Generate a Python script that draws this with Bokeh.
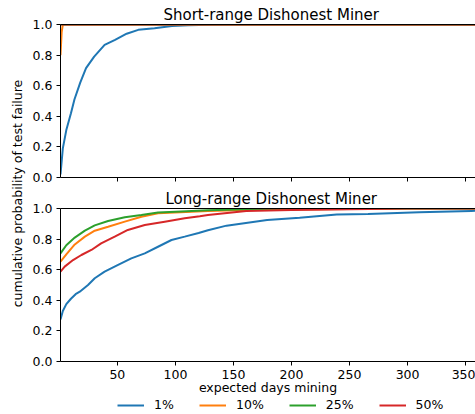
import numpy as np
from bokeh.plotting import figure
from bokeh.models import (Range1d, FixedTicker, PrintfTickFormatter, LinearAxis,
                          Legend, LegendItem)
from bokeh.layouts import row, column
from bokeh.core.properties import value
from bokeh.embed import file_html
from bokeh.resources import INLINE

FONT = "DejaVu Sans"

# ---------------- data ----------------
series_labels = ["1%", "10%", "25%", "50%"]
series_colors = ["#1f77b4", "#ff7f0e", "#2ca02c", "#d62728"]
x_ticks = [50, 100, 150, 200, 250, 300, 350]
y_ticks = [0.0, 0.2, 0.4, 0.6, 0.8, 1.0]

# Short-range dishonest miner
short_days_1 = [1, 3, 6, 10, 13, 18, 23, 30, 39, 48, 58, 68, 82, 97, 111, 130, 150, 200, 365]
short_prob_1 = [0.02, 0.19, 0.31, 0.42, 0.51, 0.62, 0.715, 0.79, 0.867, 0.90, 0.94, 0.965,
                0.976, 0.99, 0.995, 0.998, 1.0, 1.0, 1.0]
short_days_10 = [1, 2, 3, 365]
short_prob_10 = [0.80, 0.95, 1.0, 1.0]
short_days_25 = [1, 365]
short_prob_25 = [1.0, 1.0]
short_days_50 = [1, 365]
short_prob_50 = [1.0, 1.0]

# Long-range dishonest miner
long_days_1 = [1, 3, 6, 10, 14, 17.6, 24.7, 30.5, 39, 50.6, 62, 73.6, 85, 96.6, 108, 120, 128,
               144, 179, 207, 239, 266, 310, 355, 365]
long_prob_1 = [0.275, 0.33, 0.375, 0.41, 0.44, 0.456, 0.50, 0.544, 0.587, 0.631, 0.674, 0.707,
               0.75, 0.794, 0.816, 0.84, 0.858, 0.888, 0.925, 0.94, 0.96, 0.964, 0.975, 0.984,
               0.986]
long_days_10 = [1, 6, 13.3, 22, 30.5, 42, 56.4, 70.7, 85, 114, 128, 160, 200, 250, 300, 365]
long_prob_10 = [0.652, 0.70, 0.765, 0.816, 0.855, 0.881, 0.914, 0.946, 0.969, 0.979, 0.983,
                0.99, 0.994, 0.997, 1.0, 1.0]
long_days_25 = [1, 6, 13.3, 22, 30.5, 42, 56.4, 70.7, 85, 100, 128, 160, 200, 365]
long_prob_25 = [0.707, 0.76, 0.81, 0.855, 0.89, 0.918, 0.943, 0.958, 0.974, 0.979, 0.988,
                0.995, 1.0, 1.0]
long_days_50 = [1, 4.6, 11.8, 19, 27.6, 36, 47.7, 59, 73.6, 90.8, 108, 121, 128, 161, 200,
                250, 300, 365]
long_prob_50 = [0.587, 0.62, 0.663, 0.696, 0.729, 0.772, 0.816, 0.86, 0.892, 0.914, 0.936,
                0.95, 0.958, 0.984, 0.99, 0.995, 1.0, 1.0]

short_series = [(short_days_1, short_prob_1), (short_days_10, short_prob_10),
                (short_days_25, short_prob_25), (short_days_50, short_prob_50)]
long_series = [(long_days_1, long_prob_1), (long_days_10, long_prob_10),
               (long_days_25, long_prob_25), (long_days_50, long_prob_50)]


def style_axis(ax, show_labels=True):
    ax.axis_line_color = "black"
    ax.axis_line_width = 1
    ax.major_tick_line_color = "black"
    ax.major_tick_out = 4
    ax.major_tick_in = 0
    ax.minor_tick_line_color = None
    ax.major_label_text_font = FONT
    if show_labels:
        ax.major_label_text_color = "black"
        ax.major_label_text_font_size = "12.5px"
        ax.major_label_standoff = 4
    else:
        ax.major_label_text_color = None
        ax.major_label_text_font_size = "1px"
        ax.major_label_standoff = 0


def make_panel(title, title_offset, series, height, border_bottom, show_xlabels):
    p = figure(width=449, height=height, output_backend="svg", toolbar_location=None,
               x_range=Range1d(1, 358.5), y_range=Range1d(0, 1),
               min_border_left=34, min_border_right=0, min_border_top=24,
               min_border_bottom=border_bottom, outline_line_color=None,
               background_fill_color="white", border_fill_color="white")
    p.title.text = title
    p.title.align = "left"
    p.title.offset = title_offset
    p.title.text_font = FONT
    p.title.text_font_size = "15px"
    p.title.text_font_style = "normal"
    p.title.text_color = "black"
    p.title.standoff = 2
    p.xgrid.visible = False
    p.ygrid.visible = False

    xax = p.below[0]
    xax.ticker = FixedTicker(ticks=x_ticks)
    style_axis(xax, show_xlabels)
    yax = p.left[0]
    yax.ticker = FixedTicker(ticks=y_ticks)
    yax.formatter = PrintfTickFormatter(format="%.1f")
    style_axis(yax, True)
    yax.major_label_standoff = 4

    top = LinearAxis(ticker=FixedTicker(ticks=[]), axis_line_color="black",
                     major_tick_out=0, major_tick_in=0, minor_tick_line_color=None,
                     major_label_text_font_size="1px", major_label_text_color=None,
                     major_label_standoff=0)
    p.add_layout(top, "above")

    for (xs, ys), c in zip(series, series_colors):
        p.line(xs, ys, line_color=c, line_width=2)
    return p, xax


p1, _ = make_panel("Short-range Dishonest Miner", 103, short_series, 184, 7, False)
P2_H = 213
p2, xax2 = make_panel("Long-range Dishonest Miner", 105, long_series, P2_H, 36, True)

xax2.axis_label = "expected days mining"
xax2.axis_label_text_font = FONT
xax2.axis_label_text_font_size = "12.5px"
xax2.axis_label_text_font_style = "normal"
xax2.axis_label_text_color = "black"
xax2.axis_label_standoff = -2

# legend strip below the lower panel; the series are drawn outside its visible y range
leg_h = 414 - 184 - P2_H
legfig = figure(width=449, height=leg_h, output_backend="svg", toolbar_location=None,
                x_range=Range1d(1, 358.5), y_range=Range1d(2, 3), min_border=0,
                outline_line_color=None, x_axis_type=None, y_axis_type=None)
legfig.xgrid.visible = False
legfig.ygrid.visible = False
items = []
for lab_txt, (xs, ys), c in zip(series_labels, long_series, series_colors):
    r = legfig.line(xs, ys, line_color=c, line_width=2)
    items.append(LegendItem(label=lab_txt, renderers=[r]))
legend = Legend(items=items, orientation="horizontal", location=(57, 2),
                glyph_width=27, glyph_height=14, label_standoff=10, spacing=25,
                padding=0, margin=0, border_line_color=None, background_fill_alpha=0,
                label_text_font=FONT, label_text_font_size="12.5px",
                label_text_color="black")
legfig.add_layout(legend)

lab = figure(width=26, height=414, output_backend="svg", toolbar_location=None,
             x_range=Range1d(0, 26), y_range=Range1d(0, 414), min_border=0,
             outline_line_color=None, x_axis_type=None, y_axis_type=None)
lab.xgrid.visible = False
lab.ygrid.visible = False
lab.text(x=[17], y=[221], text=["cumulative probability of test failure"], angle=np.pi / 2,
         text_align="center", text_baseline="middle", text_font=value(FONT),
         text_font_size="12.5px", text_color="black")

layout = row(lab, column(p1, p2, legfig))

with open("out.html", "w") as f:
    f.write(file_html(layout, INLINE))
